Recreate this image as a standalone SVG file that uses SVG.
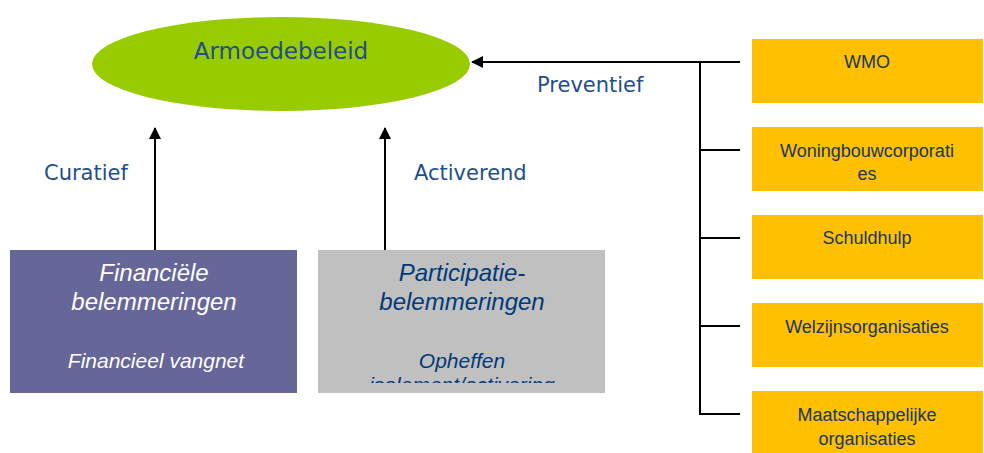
<svg xmlns="http://www.w3.org/2000/svg" width="984" height="453" viewBox="0 0 984 453">
<style>
.lbl{font-family:"DejaVu Sans",Verdana,sans-serif;font-size:21px;fill:#1F4E8C}
.btxt{font-family:"Liberation Sans",Arial,sans-serif;font-size:24px;font-style:italic;text-anchor:middle}
.sm{font-size:21px}
.otxt{font-family:"Liberation Sans",Arial,sans-serif;font-size:18px;fill:#17375E;text-anchor:middle}
.org{fill:#FFC000}
.ln{stroke:#000;stroke-width:2;fill:none}
</style>
<defs>
<marker id="ah" markerWidth="12" markerHeight="12" refX="11" refY="6" orient="auto" markerUnits="userSpaceOnUse">
<path d="M0,0 L12,6 L0,12 z" fill="#000"/>
</marker>
<clipPath id="gclip"><rect x="318" y="250" width="287" height="133"/></clipPath>
</defs>
<rect width="984" height="453" fill="#fff"/>
<g id="connectors">
<line class="ln" x1="740" y1="62" x2="472" y2="62" marker-end="url(#ah)"/>
<line class="ln" x1="700" y1="62" x2="700" y2="414"/>
<line class="ln" x1="700" y1="150" x2="740" y2="150"/>
<line class="ln" x1="700" y1="238" x2="740" y2="238"/>
<line class="ln" x1="700" y1="326" x2="740" y2="326"/>
<line class="ln" x1="699" y1="414" x2="740" y2="414"/>
<line class="ln" x1="155" y1="250" x2="155" y2="128" marker-end="url(#ah)"/>
<line class="ln" x1="385" y1="250" x2="385" y2="128" marker-end="url(#ah)"/>
<text class="lbl" x="537" y="92">Preventief</text>
<text class="lbl" x="44" y="180">Curatief</text>
<text class="lbl" x="414" y="180">Activerend</text>
</g>
<g id="armoedebeleid">
<ellipse cx="281" cy="64" rx="189" ry="47" fill="#99CC00"/>
<text x="281" y="59" text-anchor="middle" style="font-family:'DejaVu Sans',Verdana,sans-serif;font-size:23px;fill:#1F4E8C">Armoedebeleid</text>
</g>
<g id="financieel">
<rect x="10" y="250" width="287" height="143" fill="#666699"/>
<text class="btxt" fill="#fff" x="154" y="281">Financiële</text>
<text class="btxt" fill="#fff" x="154" y="310">belemmeringen</text>
<text class="btxt sm" fill="#fff" x="156" y="368">Financieel vangnet</text>
</g>
<g id="participatie">
<rect x="318" y="250" width="287" height="143" fill="#C0C0C0"/>
<g clip-path="url(#gclip)">
<text class="btxt" fill="#003A78" x="462" y="281">Participatie-</text>
<text class="btxt" fill="#003A78" x="462" y="310">belemmeringen</text>
<text class="btxt sm" fill="#003A78" x="462" y="368">Opheffen</text>
<text class="btxt sm" fill="#003A78" x="462" y="392">isolement/activering</text>
</g>
</g>
<g id="wmo">
<rect class="org" x="752" y="39" width="231" height="64"/>
<text class="otxt" x="867" y="68">WMO</text>
</g>
<g id="woningbouw">
<rect class="org" x="752" y="127" width="231" height="64"/>
<text class="otxt" x="867" y="157">Woningbouwcorporati</text>
<text class="otxt" x="867" y="180">es</text>
</g>
<g id="schuldhulp">
<rect class="org" x="752" y="215" width="231" height="64"/>
<text class="otxt" x="867" y="244">Schuldhulp</text>
</g>
<g id="welzijn">
<rect class="org" x="752" y="303" width="231" height="64"/>
<text class="otxt" x="867" y="333">Welzijnsorganisaties</text>
</g>
<g id="maatschappelijk">
<rect class="org" x="752" y="391" width="231" height="62"/>
<text class="otxt" x="867" y="421">Maatschappelijke</text>
<text class="otxt" x="867" y="445">organisaties</text>
</g>
</svg>
